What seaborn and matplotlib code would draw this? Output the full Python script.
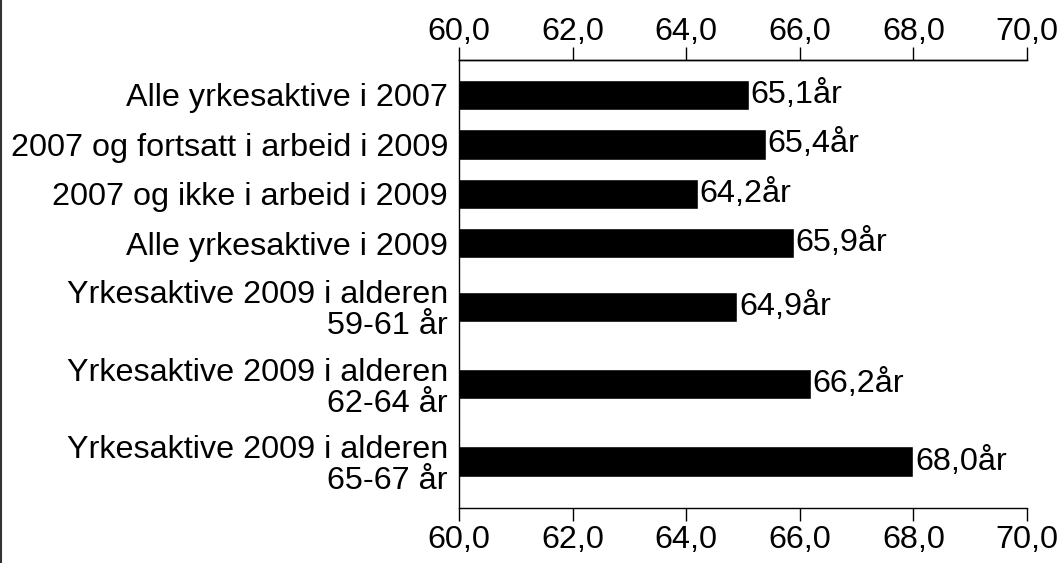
import numpy as np
import pandas as pd
import matplotlib
matplotlib.use("Agg")
import matplotlib.pyplot as plt
import seaborn as sns

categories = [
    "Alle yrkesaktive i 2007",
    "2007 og fortsatt i arbeid i 2009",
    "2007 og ikke i arbeid i 2009",
    "Alle yrkesaktive i 2009",
    "Yrkesaktive 2009 i alderen\n59-61 år",
    "Yrkesaktive 2009 i alderen\n62-64 år",
    "Yrkesaktive 2009 i alderen\n65-67 år",
]
values = [65.1, 65.4, 64.2, 65.9, 64.9, 66.2, 68.0]
x_ticks = [60.0, 62.0, 64.0, 66.0, 68.0, 70.0]

FS = 23.3


def fmt(v):
    return f"{v:.1f}".replace(".", ",")


sns.set_theme(style="white")
plt.rcParams["font.family"] = ["Liberation Sans", "DejaVu Sans"]

# Rows with two-line labels get more vertical room than single-line rows
row_heights = np.array([1.0 if "\n" not in c else 1.565 for c in categories])
edges = np.concatenate([[0.0], np.cumsum(row_heights)])
centers = (edges[:-1] + edges[1:]) / 2 - row_heights[0] / 2

df = pd.DataFrame({"label": categories, "value": values, "pos": centers})

fig = plt.figure(figsize=(10.63, 5.63), dpi=100)
ax = fig.add_axes([0.4318, 0.0977, 0.9661 - 0.4318, 0.8934 - 0.0977])

sns.barplot(data=df, x="value", y="pos", orient="h", native_scale=True,
            color="black", width=0.61, saturation=1, ax=ax)

ax.set_xlim(60, 70)
ax.set_ylim(centers[-1] + 0.94, centers[0] - 0.707)
ax.set_yticks(centers)
ax.set_yticklabels(categories, fontsize=FS, linespacing=1.05)
ax.set_xticks(x_ticks)
ax.set_xticklabels([fmt(t) for t in x_ticks])
ax.set_xlabel("")
ax.set_ylabel("")

ax.tick_params(axis="x", bottom=True, top=False, direction="out", length=9.5,
               width=1, color="black", labelsize=FS, pad=3, labelcolor="black")
ax.tick_params(axis="y", length=0, pad=8, labelcolor="black")

# duplicate value scale along the top
top = ax.secondary_xaxis("top")
top.set_xticks(x_ticks)
top.set_xticklabels([fmt(t) for t in x_ticks])
top.tick_params(axis="x", direction="out", length=9.5, width=1, color="black",
                labelsize=FS, pad=0, labelcolor="black")
top.spines["top"].set_color("black")
top.spines["top"].set_linewidth(1.0)

for side in ["top", "bottom", "left"]:
    ax.spines[side].set_visible(True)
    ax.spines[side].set_color("black")
    ax.spines[side].set_linewidth(1.0)
ax.spines["right"].set_visible(False)

for v, p in zip(values, centers):
    ax.text(v + 0.03, p, fmt(v) + "år",
            va="center", ha="left", fontsize=FS, color="black")

# thin frame line along the left edge of the figure
fig.add_artist(plt.Line2D([0.001, 0.001], [0, 1], transform=fig.transFigure,
                          color="#333333", linewidth=1.5))

fig.savefig("out.png", dpi=100)
